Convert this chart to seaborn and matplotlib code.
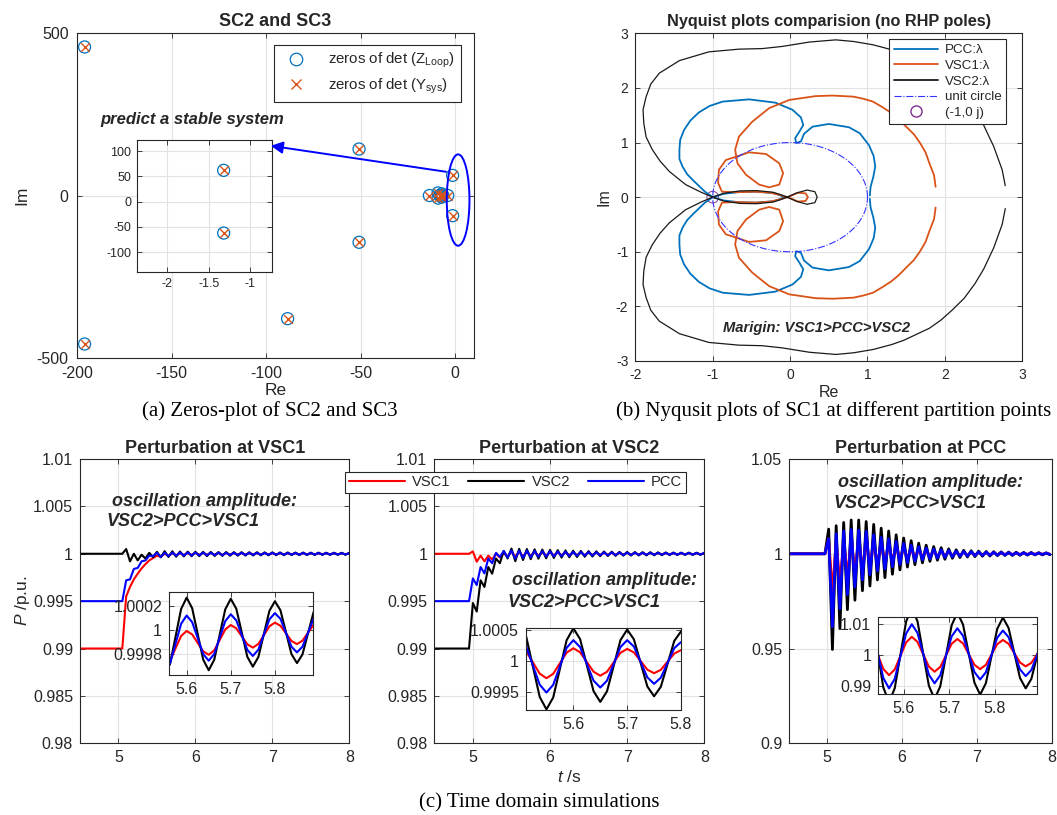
import numpy as np
import matplotlib
matplotlib.use("Agg")
import matplotlib.pyplot as plt
import seaborn as sns
from matplotlib.lines import Line2D
from matplotlib.patches import Ellipse, ConnectionPatch
from matplotlib.ticker import FuncFormatter, MultipleLocator

# ---------------- (a) zeros of det ----------------
zloop_re = [-196, -196, -50.8, -50.8, -88.6, -1.32, -1.32, -13.6, -3.9, -9.0, -9.0, -8.0, -7.0, -7.0, -6.5]
zloop_im = [457, -457, 143, -144, -379, 62, -62, 0, 0, 8, -8, 0, 5, -5, 0]
ysys_re = [-196, -196, -50.8, -50.8, -88.6, -1.32, -1.32, -13.6, -3.9, -9.0, -9.0, -8.0, -7.0, -7.0, -6.5]
ysys_im = [457, -457, 143, -144, -379, 62, -62, 0, 0, 8, -8, 0, 5, -5, 0]

# ---------------- (b) Nyquist curves (upper half) ----------------
pcc_re = [1.03, 1.04, 1.075, 1.10, 1.08, 1.02, 0.90, 0.76, 0.50, 0.29, 0.18, 0.14, 0.08, 0.065, 0.12, 0.17,
          0.14, 0.03, -0.19, -0.53, -0.87, -1.04, -1.18, -1.29, -1.37, -1.42, -1.43, -1.43, -1.39, -1.33,
          -1.24, -1.10, -1.00, -0.86, -0.65, -0.43, -0.22, -0.12, -0.08]
pcc_im = [0.03, 0.19, 0.37, 0.56, 0.75, 0.95, 1.17, 1.28, 1.34, 1.29, 1.16, 1.02, 0.99, 1.08, 1.20, 1.32,
          1.46, 1.60, 1.73, 1.79, 1.75, 1.67, 1.55, 1.40, 1.23, 1.05, 0.87, 0.70, 0.56, 0.42,
          0.29, 0.10, 0.0, -0.06, -0.095, -0.10, -0.075, -0.03, 0.0]
vsc1_re = [1.88, 1.86, 1.80, 1.75, 1.68, 1.60, 1.50, 1.41, 1.31, 1.19, 1.07, 0.95, 0.82, 0.55, 0.33, -0.01,
           -0.27, -0.49, -0.66, -0.71, -0.68, -0.57, -0.40, -0.27, -0.14, -0.09, -0.14, -0.31, -0.53, -0.70,
           -0.83, -0.92, -0.93, -0.88, -0.70, -0.45, -0.25, -0.13, -0.03, 0.10, 0.20, 0.23]
vsc1_im = [0.19, 0.40, 0.62, 0.82, 0.99, 1.15, 1.29, 1.42, 1.54, 1.65, 1.75, 1.80, 1.84, 1.86, 1.85, 1.78,
           1.63, 1.38, 1.11, 0.87, 0.62, 0.41, 0.23, 0.18, 0.23, 0.44, 0.62, 0.79, 0.82, 0.74,
           0.68, 0.50, 0.26, 0.10, 0.09, 0.10, 0.08, 0.04, 0.0, -0.08, -0.07, 0.0]
vsc2_re = [2.78, 2.74, 2.63, 2.50, 2.39, 2.25, 2.10, 1.95, 1.80, 1.62, 1.47, 1.31, 1.07, 0.82, 0.59, 0.25,
           -0.10, -0.36, -0.66, -1.05, -1.43, -1.69, -1.80, -1.86, -1.90, -1.89, -1.86, -1.78, -1.68, -1.56,
           -1.35, -1.15, -1.00, -0.86, -0.65, -0.43, -0.22, -0.13, -0.04, 0.09, 0.22, 0.32, 0.35]
vsc2_im = [0.21, 0.50, 0.93, 1.32, 1.58, 1.85, 2.06, 2.25, 2.40, 2.52, 2.62, 2.70, 2.79, 2.85, 2.88, 2.84,
           2.76, 2.72, 2.71, 2.66, 2.50, 2.27, 2.07, 1.84, 1.60, 1.35, 1.10, 0.87, 0.66, 0.47,
           0.23, 0.09, 0.0, -0.07, -0.115, -0.12, -0.09, -0.05, 0.0, 0.08, 0.13, 0.10, 0.0]
unit_radius = 1.0
crit_re, crit_im = [-1.0], [0.0]

# ---------------- (c) time-domain, deviation of P from 1 ----------------
# panel 1 (perturbation at VSC1), units 1e-4, t = 4.5 then 5.05..8.00 step 0.05
t_p1 = [4.5] + [round(5.05 + 0.05 * k, 3) for k in range(60)]
p1_vsc1 = [-100, -100, -45, -35, -27, -21, -15.5, -11, -7, -4.5, -2,
           -3.0, -0.1, -2.1, 0.4, -1.5, 0.6, -1.2, 0.7, -1.1, 0.8,
           -1.0, 0.8, -1.0, 0.8, -0.9, 0.8, -0.9, 0.7, -0.8, 0.7,
           -0.8, 0.7, -0.7, 0.6, -0.7, 0.6, -0.7, 0.6, -0.6, 0.6,
           -0.6, 0.5, -0.6, 0.5, -0.5, 0.5, -0.5, 0.5, -0.5, 0.4,
           -0.5, 0.4, -0.4, 0.4, -0.4, 0.4, -0.4, 0.3, -0.4, 0.3]
p1_vsc2 = [0, 0, 5, -8, 0, -7, -1, -5, 1, -3.5, 2,
           -3.8, 2.7, -3.4, 2.6, -3.1, 2.4, -2.8, 2.2, -2.6, 2.1,
           -2.5, 2.0, -2.4, 1.9, -2.3, 1.8, -2.2, 1.8, -2.1, 1.7,
           -2.0, 1.7, -1.9, 1.6, -1.8, 1.6, -1.7, 1.5, -1.6, 1.5,
           -1.5, 1.4, -1.5, 1.4, -1.4, 1.3, -1.4, 1.3, -1.3, 1.2,
           -1.3, 1.2, -1.2, 1.1, -1.2, 1.1, -1.1, 1.0, -1.1, 1.0]
p1_pcc = [-50, -50, -28, -27, -16, -15, -8, -7, -2, -2.5, 1,
          -3.5, 1.2, -2.6, 1.3, -2.2, 1.4, -1.9, 1.4, -1.8, 1.3,
          -1.7, 1.3, -1.6, 1.2, -1.5, 1.2, -1.5, 1.1, -1.4, 1.1,
          -1.3, 1.0, -1.3, 1.0, -1.2, 1.0, -1.1, 0.9, -1.1, 0.9,
          -1.0, 0.9, -1.0, 0.8, -0.9, 0.8, -0.9, 0.8, -0.9, 0.7,
          -0.8, 0.7, -0.8, 0.7, -0.8, 0.7, -0.7, 0.6, -0.7, 0.6]
# panel 2 (perturbation at VSC2), units 1e-4, t = 4.5 then 4.95..8.00 step 0.05
t_p2 = [4.5] + [round(4.95 + 0.05 * k, 3) for k in range(62)]
p2_vsc1 = [0, 0, 2.5, -8.4, -2, -8, -2, -6, 0, -4, 1, -3,
           2.2, -2.8, 2.0, -2.4, 1.9, -2.0, 1.7, -1.8, 1.6, -1.7,
           1.5, -1.5, 1.4, -1.4, 1.3, -1.3, 1.2, -1.2, 1.1, -1.1,
           1.0, -1.0, 1.0, -1.0, 0.9, -0.9, 0.9, -0.9, 0.8, -0.8,
           0.8, -0.8, 0.7, -0.7, 0.7, -0.7, 0.7, -0.7, 0.6, -0.6,
           0.6, -0.6, 0.6, -0.6, 0.5, -0.5, 0.5, -0.5, 0.5, -0.5, 0.5]
p2_vsc2 = [-100, -100, -52, -61, -28, -35, -14, -21, -5, -10, 3, -5,
           5.5, -7.8, 5.2, -6.6, 5.0, -5.7, 4.7, -5.2, 4.4, -4.8,
           4.1, -4.4, 3.8, -4.0, 3.5, -3.7, 3.2, -3.4, 3.0, -3.1,
           2.8, -2.9, 2.6, -2.6, 2.4, -2.4, 2.2, -2.2, 2.0, -2.0,
           1.9, -1.9, 1.8, -1.8, 1.7, -1.7, 1.6, -1.6, 1.5, -1.5,
           1.4, -1.4, 1.3, -1.3, 1.2, -1.2, 1.2, -1.2, 1.1, -1.1, 1.0]
p2_pcc = [-50, -50, -26, -33, -14, -20.7, -5, -10, 1, -3.5, 3, -4,
          3.5, -5.1, 3.3, -4.3, 3.3, -3.7, 3.0, -3.3, 2.8, -3.0,
          2.6, -2.8, 2.4, -2.6, 2.2, -2.4, 2.0, -2.2, 1.9, -2.0,
          1.8, -1.9, 1.7, -1.7, 1.6, -1.6, 1.5, -1.5, 1.4, -1.4,
          1.3, -1.3, 1.2, -1.2, 1.1, -1.1, 1.1, -1.1, 1.0, -1.0,
          1.0, -1.0, 0.9, -0.9, 0.9, -0.9, 0.8, -0.8, 0.8, -0.8, 0.7]
# panel 3 (perturbation at PCC), units 1e-3, t = 4.5 then 4.975..7.975 step 0.05
t_p3 = [4.5] + [round(4.975 + 0.05 * k, 4) for k in range(61)]
p3_vsc1 = [0, 0, 8, -21, 6.5, -16, 7, -12, 7.5, -10, 7.5, -8,
           7, -6.4, 5.8, -5.3, 5.1, -4.6, 4.8, -3.7, 4.0, -3.1,
           3.3, -2.6, 2.8, -2.2, 2.3, -1.9, 1.9, -1.6, 1.6, -1.4,
           1.3, -1.2, 1.1, -1.0, 0.9, -0.9, 0.8, -0.8, 0.7, -0.7,
           0.6, -0.6, 0.55, -0.5, 0.5, -0.45, 0.45, -0.4, 0.4, -0.4,
           0.35, -0.35, 0.3, -0.3, 0.3, -0.3, 0.25, -0.25, 0.25, -0.2]
p3_vsc2 = [0, 0, 13, -50.5, 14.8, -39.5, 16.5, -29.5, 17.8, -24.5, 17.8, -19.5,
           17, -17, 15.5, -13.8, 13.5, -12.6, 12.0, -10.8, 10.0, -8.5,
           8.3, -7.0, 6.9, -5.8, 5.6, -4.8, 4.5, -4.0, 3.8, -3.4,
           3.2, -2.9, 2.6, -2.4, 2.1, -2.0, 1.8, -1.7, 1.6, -1.5,
           1.4, -1.3, 1.2, -1.2, 1.1, -1.0, 1.0, -0.9, 0.9, -0.9,
           0.8, -0.8, 0.7, -0.7, 0.7, -0.6, 0.6, -0.6, 0.5, -0.5]
p3_pcc = [0, 0, 8, -38.5, 10.5, -29, 12, -21.5, 12.8, -17.5, 12.5, -13.8,
          11.8, -11.0, 10.0, -9.0, 8.6, -8.0, 7.8, -6.8, 6.5, -5.6,
          5.4, -4.6, 4.5, -3.8, 3.7, -3.2, 3.0, -2.7, 2.5, -2.3,
          2.1, -1.9, 1.7, -1.6, 1.4, -1.3, 1.2, -1.2, 1.1, -1.0,
          0.95, -0.9, 0.85, -0.8, 0.75, -0.7, 0.7, -0.65, 0.6, -0.6,
          0.55, -0.55, 0.5, -0.5, 0.45, -0.45, 0.4, -0.4, 0.4, -0.35]

# insets (finer sampling)
t_i1 = [round(5.55 + 0.0125 * k, 4) for k in range(29)]
i1_vsc1 = [-3.0, -2.58, -1.55, -0.52, -0.1, -0.39, -1.1, -1.81, -2.1, -1.73, -0.85, 0.03, 0.4, 0.12, -0.55,
           -1.22, -1.5, -1.19, -0.45, 0.29, 0.6, 0.34, -0.3, -0.94, -1.2, -0.92, -0.25, 0.42, 0.7]
i1_vsc2 = [-3.8, -2.85, -0.55, 1.75, 2.7, 1.81, -0.35, -2.51, -3.4, -2.52, -0.4, 1.72, 2.6, 1.77, -0.25,
           -2.27, -3.1, -2.29, -0.35, 1.59, 2.4, 1.64, -0.2, -2.04, -2.8, -2.07, -0.3, 1.47, 2.2]
i1_pcc = [-3.5, -2.81, -1.15, 0.51, 1.2, 0.64, -0.7, -2.04, -2.6, -2.03, -0.65, 0.73, 1.3, 0.79, -0.45,
          -1.69, -2.2, -1.67, -0.4, 0.87, 1.4, 0.92, -0.25, -1.42, -1.9, -1.42, -0.25, 0.92, 1.4]
t_i2 = [round(5.5 + 0.0125 * k, 4) for k in range(25)]
i2_vsc1 = [2.2, 1.47, -0.3, -2.07, -2.8, -2.10, -0.4, 1.30, 2.0, 1.36, -0.2, -1.76, -2.4, -1.77, -0.25,
           1.27, 1.9, 1.33, -0.05, -1.43, -2.0, -1.46, -0.15, 1.16, 1.7]
i2_vsc2 = [5.8, 3.81, -1.0, -5.81, -7.8, -5.90, -1.3, 3.30, 5.2, 3.47, -0.7, -4.87, -6.6, -4.90, -0.8,
           3.30, 5.0, 3.43, -0.35, -4.13, -5.7, -4.18, -0.5, 3.18, 4.7]
i2_pcc = [3.5, 2.24, -0.8, -3.84, -5.1, -3.87, -0.9, 2.07, 3.3, 2.19, -0.5, -3.19, -4.3, -3.19, -0.5,
          2.19, 3.3, 2.27, -0.2, -2.67, -3.7, -2.72, -0.35, 2.02, 3.0]
t_i3 = [round(5.5175 + 0.0125 * k, 5) for k in range(33)]
i3_vsc1 = [7, 5.04, 0.3, -4.44, -6.4, -4.61, -0.3, 4.01, 5.8, 4.17, 0.25, -3.67, -5.3, -3.78, -0.1, 3.58,
           5.1, 3.69, 0.3, -3.09, -4.5, -3.14, 0.15, 3.44, 4.8, 3.57, 0.6, -2.37, -3.6, -2.49, 0.2, 2.89, 4.0]
i3_vsc2 = [17, 12.31, 1, -10.31, -15, -10.61, 0, 10.61, 15, 10.75, 0.5, -9.75, -14, -9.97, -0.25, 9.47,
           13.5, 9.68, 0.45, -8.78, -12.6, -9.01, -0.35, 8.31, 11.9, 8.60, 0.65, -7.30, -10.6, -7.58, -0.3, 6.98, 10]
i3_pcc = [12, 8.69, 0.7, -7.29, -10.6, -7.61, -0.4, 6.81, 9.8, 7.05, 0.4, -6.25, -9.0, -6.44, -0.25, 5.94,
          8.5, 6.11, 0.35, -5.41, -7.8, -5.51, 0, 5.51, 7.8, 5.68, 0.55, -4.58, -6.7, -4.77, -0.1, 4.57, 6.5]

series_names = ["VSC1", "VSC2", "PCC"]

# ---------------- style ----------------
sns.set_theme(style="whitegrid")
plt.rcParams["font.family"] = ["Liberation Sans", "DejaVu Sans"]
plt.rcParams["mathtext.fontset"] = "custom"
plt.rcParams["mathtext.rm"] = "Liberation Sans"
plt.rcParams["mathtext.it"] = "Liberation Sans:italic"
plt.rcParams["mathtext.bf"] = "Liberation Sans:bold"

M_BLUE, M_ORANGE, M_PURPLE = "#0072BD", "#D95319", "#7E2F8E"
AXC, GRIDC = "#262626", "#e2e2e2"
C_VSC1, C_VSC2, C_PCC = "#ff0000", "#000000", "#0000ff"
fmt = FuncFormatter(lambda v, p: "%g" % (round(v, 8) + 0.0))


def matlab_axes(ax, fs, pad=4):
    ax.set_facecolor("white")
    for s in ax.spines.values():
        s.set_visible(True)
        s.set_color(AXC)
        s.set_linewidth(0.8)
    ax.tick_params(direction="in", top=True, right=True, bottom=True, left=True,
                   length=3.5, width=0.6, color=AXC, labelcolor=AXC, labelsize=fs, pad=pad)
    ax.grid(True, color=GRIDC, lw=0.8)
    ax.set_axisbelow(True)
    ax.xaxis.set_major_formatter(fmt)
    ax.yaxis.set_major_formatter(fmt)


def line(ax, x, y, color, lw=1.4, ls="-"):
    sns.lineplot(x=np.asarray(x, float), y=np.asarray(y, float), ax=ax, color=color, lw=lw,
                 linestyle=ls, sort=False, estimator=None, legend=False)


fig = plt.figure(figsize=(10.57, 8.15), dpi=100)
W, H = 1057.0, 815.0

# ================= (a) =================
ax_a = fig.add_axes([77 / W, 1 - 358 / H, 397 / W, 325 / H])
matlab_axes(ax_a, 11.5, pad=6)


def zeros_scatter(ax, s_o, s_x):
    sns.scatterplot(x=zloop_re, y=zloop_im, ax=ax, marker="o", s=s_o, color=M_BLUE, legend=False)
    ax.collections[-1].set_facecolor("none")
    ax.collections[-1].set_edgecolor(M_BLUE)
    ax.collections[-1].set_linewidth(0.9)
    sns.scatterplot(x=ysys_re, y=ysys_im, ax=ax, marker="x", s=s_x, color=M_ORANGE, linewidth=1.0, legend=False)


zeros_scatter(ax_a, 75, 38)
ax_a.set_xlim(-200, 10)
ax_a.set_ylim(-500, 500)
ax_a.xaxis.set_major_locator(MultipleLocator(50))
ax_a.yaxis.set_major_locator(MultipleLocator(500))
ax_a.set_xlabel("Re", fontsize=12.5, color=AXC, labelpad=1)
ax_a.set_ylabel("Im", fontsize=12.5, color=AXC, labelpad=5)
ax_a.set_title("SC2 and SC3", fontsize=13, fontweight="bold", pad=5)
ax_a.add_patch(Ellipse((1.6, -14), 12, 281, fill=False, edgecolor="#0000ff", lw=1.4, zorder=5))
ax_a.text(0.058, 0.735, "predict a stable system", transform=ax_a.transAxes, fontsize=12,
          fontweight="bold", fontstyle="italic", va="center", ha="left")
h_a = [Line2D([], [], ls="none", marker="o", mfc="none", mec=M_BLUE, ms=9, mew=0.9),
       Line2D([], [], ls="none", marker="x", color=M_ORANGE, ms=7, mew=1.0)]
leg_a = ax_a.legend(h_a, [r"zeros of det (Z$_{\mathrm{Loop}}$)", r"zeros of det (Y$_{\mathrm{sys}}$)"],
                    loc="upper right", bbox_to_anchor=(0.966, 0.963), fontsize=10.8, frameon=True,
                    fancybox=False, framealpha=1, edgecolor=AXC, handletextpad=1.0, borderpad=0.4,
                    labelspacing=0.4, handlelength=2.2, borderaxespad=0)
leg_a.get_frame().set_linewidth(0.8)

ax_ai = fig.add_axes([137 / W, 1 - 272 / H, 135 / W, 132 / H])
matlab_axes(ax_ai, 9)
zeros_scatter(ax_ai, 75, 38)
ax_ai.set_xlim(-2.36, -0.74)
ax_ai.set_ylim(-139, 122)
ax_ai.xaxis.set_major_locator(MultipleLocator(0.5))
ax_ai.yaxis.set_major_locator(MultipleLocator(50))
con = ConnectionPatch(xyA=(-4.8, 73), coordsA=ax_a.transData, xyB=(-97.5, 153), coordsB=ax_a.transData,
                      arrowstyle="-|>", color="#0000ff", lw=1.4, mutation_scale=18, zorder=10)
fig.add_artist(con)

# ================= (b) =================
ax_b = fig.add_axes([635.3 / W, 1 - 361 / H, 387 / W, 327.7 / H])
matlab_axes(ax_b, 10, pad=5)


def full_curve(xs, ys):
    return list(xs) + list(xs[::-1]), list(ys) + [-v for v in ys[::-1]]


for xs, ys, col, lw in [(pcc_re, pcc_im, M_BLUE, 1.3), (vsc1_re, vsc1_im, M_ORANGE, 1.3),
                        (vsc2_re, vsc2_im, "#1a1a1a", 0.9)]:
    fx, fy = full_curve(xs, ys)
    line(ax_b, fx, fy, col, lw=lw)
ang = np.linspace(0, 2 * np.pi, 361)
line(ax_b, unit_radius * np.cos(ang), unit_radius * np.sin(ang), "#3333ff", lw=0.8, ls="-.")
sns.scatterplot(x=crit_re, y=crit_im, ax=ax_b, marker="o", s=70, color=M_PURPLE, legend=False)
ax_b.collections[-1].set_facecolor("none")
ax_b.collections[-1].set_edgecolor(M_PURPLE)
ax_b.set_xlim(-2, 3)
ax_b.set_ylim(-3, 3)
ax_b.xaxis.set_major_locator(MultipleLocator(1))
ax_b.yaxis.set_major_locator(MultipleLocator(1))
ax_b.set_xlabel("Re", fontsize=11.5, color=AXC, labelpad=2)
ax_b.set_ylabel("Im", fontsize=11.5, color=AXC, labelpad=3)
ax_b.set_title("Nyquist plots comparision (no RHP poles)", fontsize=11.7, fontweight="bold", pad=5)
ax_b.text(0.227, 0.102, "Marigin: VSC1>PCC>VSC2", transform=ax_b.transAxes, fontsize=10.6,
          fontweight="bold", fontstyle="italic", va="center", ha="left")
h_b = [Line2D([], [], color=M_BLUE, lw=1.3), Line2D([], [], color=M_ORANGE, lw=1.3),
       Line2D([], [], color="#1a1a1a", lw=1.3), Line2D([], [], color="#3333ff", lw=0.8, ls="-."),
       Line2D([], [], ls="none", marker="o", mfc="none", mec=M_PURPLE, ms=8)]
leg_b = ax_b.legend(h_b, ["PCC:λ", "VSC1:λ", "VSC2:λ", "unit circle", "(-1,0 j)"], loc="upper right",
                    bbox_to_anchor=(0.958, 0.982), fontsize=9.6, frameon=True, fancybox=False,
                    framealpha=1, edgecolor=AXC, handlelength=3.3, handletextpad=0.5, borderpad=0.35,
                    labelspacing=0.25, borderaxespad=0)
leg_b.get_frame().set_linewidth(0.8)

# ================= (c) =================
main_pos = [(80, 269.3), (434.3, 270), (789.3, 262.5)]
main_axes = []
for (x0, w) in main_pos:
    main_axes.append(fig.add_axes([x0 / W, 1 - 743.3 / H, w / W, 284.3 / H]))

panels = [
    (t_p1, [p1_vsc1, p1_vsc2, p1_pcc], 1e-4, (0.98, 1.01), 0.005, "Perturbation at VSC1", 1.5),
    (t_p2, [p2_vsc1, p2_vsc2, p2_pcc], 1e-4, (0.98, 1.01), 0.005, "Perturbation at VSC2", 1.5),
    (t_p3, [p3_vsc1, p3_vsc2, p3_pcc], 1e-3, (0.9, 1.05), 0.05, "Perturbation at PCC", 2.0),
]
cols = [C_VSC1, C_VSC2, C_PCC]
for ax, (t, devs, sc, yl, ystep, title, lw) in zip(main_axes, panels):
    matlab_axes(ax, 11.5, pad=5)
    order = [0, 1, 2] if title != "Perturbation at PCC" else [1, 0, 2]
    for i in order:
        line(ax, t, 1 + np.asarray(devs[i]) * sc, cols[i], lw=lw)
    ax.set_xlim(4.5, 8)
    ax.set_ylim(*yl)
    ax.xaxis.set_major_locator(MultipleLocator(1))
    ax.yaxis.set_major_locator(MultipleLocator(ystep))
    ax.set_title(title, fontsize=13, fontweight="bold", pad=4)

main_axes[0].set_ylabel(r"$\it{P}$ /p.u.", fontsize=12.5, color=AXC, labelpad=1)
main_axes[1].set_xlabel(r"$\it{t}$ /s", fontsize=12.5, color=AXC, labelpad=3)

txt_pos = [((0.118, 0.852), (0.100, 0.779)), ((0.287, 0.574), (0.272, 0.497)), ((0.185, 0.919), (0.17, 0.845))]
for ax, (p1, p2) in zip(main_axes, txt_pos):
    ax.text(p1[0], p1[1], "oscillation amplitude:", transform=ax.transAxes, fontsize=13,
            fontweight="bold", fontstyle="italic", va="center", ha="left", zorder=6)
    ax.text(p2[0], p2[1], "VSC2>PCC>VSC1", transform=ax.transAxes, fontsize=13,
            fontweight="bold", fontstyle="italic", va="center", ha="left", zorder=6)

insets = [
    ((169, 591.7, 144.3, 83.3), t_i1, [i1_vsc1, i1_vsc2, i1_pcc], 1e-4, (5.56, 5.887), (0.99962, 1.00032), 0.0002),
    ((526, 627.7, 155, 82.3), t_i2, [i2_vsc1, i2_vsc2, i2_pcc], 1e-4, (5.512, 5.8), (0.99921, 1.00053), 0.0005),
    ((878.3, 616.7, 159, 77.3), t_i3, [i3_vsc1, i3_vsc2, i3_pcc], 1e-3, (5.544, 5.893), (0.9876, 1.0122), 0.01),
]
for (x0, y0, w, h), t, devs, sc, xl, yl, ystep in insets:
    ai = fig.add_axes([x0 / W, 1 - (y0 + h) / H, w / W, h / H])
    matlab_axes(ai, 11.5, pad=5)
    for i in [0, 1, 2]:
        line(ai, t, 1 + np.asarray(devs[i]) * sc, cols[i], lw=1.5)
    ai.set_xlim(*xl)
    ai.set_ylim(*yl)
    ai.xaxis.set_major_locator(MultipleLocator(0.1))
    ai.yaxis.set_major_locator(MultipleLocator(ystep))

h_c = [Line2D([], [], color=c, lw=1.5) for c in cols]
leg_c = fig.legend(h_c, series_names, loc="upper left", bbox_to_anchor=(345 / W, 1 - 471.7 / H), ncol=3,
                   fontsize=10.6, frameon=True, fancybox=False, framealpha=1, edgecolor=AXC,
                   handlelength=3.8, handletextpad=0.5, columnspacing=1.2, borderpad=0.25,
                   borderaxespad=0)
leg_c.get_frame().set_linewidth(0.8)

# ---------------- captions ----------------
cap = dict(family=["Liberation Serif", "DejaVu Serif"], fontsize=15, ha="center", va="center", color="black")
fig.text(270 / W, 1 - 411 / H, "(a) Zeros-plot of SC2 and SC3", **cap)
fig.text(834 / W, 1 - 411 / H, "(b) Nyqusit plots of SC1 at different partition points", **cap)
fig.text(539 / W, 1 - 803 / H, "(c) Time domain simulations", **cap)

fig.savefig("out.png", dpi=100)
